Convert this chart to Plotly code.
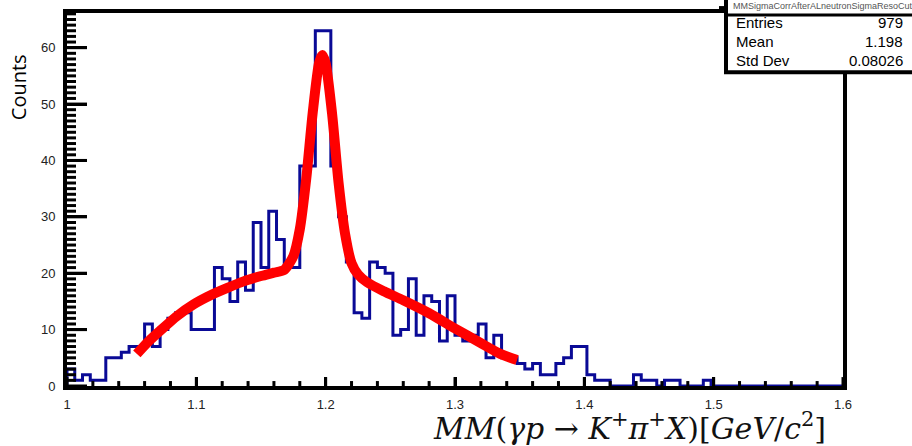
import numpy as np
import plotly.graph_objects as go

# ---------------- data ----------------
bin_lo, bin_hi, n_bins = 1.0, 1.6, 100
counts = [3, 1, 2, 1, 1, 5, 5, 6, 7, 7,
          11, 7, 10, 12, 13, 13, 10, 10, 10, 21,
          19, 15, 22, 17, 29, 21, 31, 26, 21, 21,
          39, 39, 63, 63, 39, 30, 22, 13, 12, 22,
          21, 20, 9, 10, 19, 9, 16, 15, 8, 16,
          9, 8, 9, 11, 5, 9, 5, 5, 4, 3,
          4, 2, 2, 4, 5, 7, 7, 2, 1, 1,
          0, 0, 0, 2, 1, 1, 0, 1, 1, 0,
          0, 0, 1, 0, 0, 0, 0, 0, 0, 0,
          0, 0, 0, 0, 0, 0, 0, 0, 0, 0]

fit_x = [1.054, 1.063, 1.072, 1.085, 1.098, 1.111, 1.124, 1.137, 1.15, 1.16,
         1.168, 1.175, 1.18, 1.185, 1.19, 1.195, 1.1975, 1.2, 1.205, 1.21,
         1.215, 1.22, 1.225, 1.232, 1.245, 1.26, 1.28, 1.3, 1.32, 1.335, 1.348]
fit_y = [5.7, 7.9, 9.8, 12.4, 14.5, 16.1, 17.4, 18.6, 19.5, 20.1,
         20.6, 23.0, 27.8, 36.8, 48.5, 57.4, 58.7, 57.2, 48.2, 36.0,
         27.0, 21.8, 19.8, 18.4, 16.8, 15.2, 12.9, 10.2, 7.6, 5.7, 4.6]

x_tick0, x_dtick, x_minor = 1.0, 0.1, 0.02
y_tick0, y_dtick, y_minor = 0, 10, 1

stats_title = "MMSigmaCorrAfterALneutronSigmaResoCut"
stats_names = ["Entries", "Mean", "Std Dev"]
stats_values = ["979", "1.198", "0.08026"]

y_max = 66.15

# ---------------- layout geometry (pixels) ----------------
W, H = 912, 446
ML, MR, MT, MB = 67, 69, 9, 60
PW, PH = W - ML - MR, H - MT - MB


def px(xp):
    return (xp - ML) / PW


def py(yp):
    return (H - MB - yp) / PH


def xfrac(xv):
    return (xv - bin_lo) / (bin_hi - bin_lo)


def yfrac(yv):
    return yv / y_max


edges = np.linspace(bin_lo, bin_hi, n_bins + 1)
hx = [edges[0]] + list(edges)
hy = [0] + list(counts) + [counts[-1]]

fig = go.Figure()
fig.add_trace(go.Scatter(x=hx, y=hy, mode="lines", line_shape="hv",
                         line=dict(color="#0a0a96", width=3),
                         hoverinfo="skip", showlegend=False))
fig.add_trace(go.Scatter(x=fit_x, y=fit_y, mode="lines",
                         line=dict(color="#ff0000", width=10, shape="spline", smoothing=0.7),
                         hoverinfo="skip", showlegend=False))

tickfont = dict(family="Liberation Sans, Arial, sans-serif", size=13, color="#222222")

fig.update_layout(
    width=W, height=H,
    margin=dict(l=ML, r=MR, t=MT, b=MB, pad=0),
    paper_bgcolor="white", plot_bgcolor="white",
    xaxis=dict(range=[bin_lo, bin_hi], tickmode="linear", tick0=x_tick0, dtick=x_dtick,
               showgrid=False, zeroline=False, showline=True, linecolor="black",
               linewidth=4, mirror=True, ticks="inside", ticklen=9, tickwidth=3,
               tickcolor="black", ticklabelstandoff=3, tickfont=tickfont),
    yaxis=dict(range=[0, y_max], tickmode="linear", tick0=y_tick0, dtick=y_dtick,
               showgrid=False, zeroline=False, showline=True, linecolor="black",
               linewidth=4, mirror=True, ticks="inside", ticklen=20, tickwidth=3,
               tickcolor="black", ticklabelstandoff=5, tickfont=tickfont),
)

# inside tick marks (ROOT style), positioned through the axis scales
shapes = []
for xv in np.arange(bin_lo, bin_hi + 1e-9, x_minor):
    k = (xv - x_tick0) / x_dtick
    major = abs(k - round(k)) < 1e-6
    tl = 9 if major else 5
    shapes.append(dict(type="line", xref="paper", yref="paper",
                       x0=xfrac(xv), x1=xfrac(xv), y0=0, y1=tl / PH,
                       line=dict(color="black", width=3), layer="above"))
for yv in np.arange(y_tick0, y_max, y_minor):
    major = (yv - y_tick0) % y_dtick == 0
    tl = 20 if major else 9
    shapes.append(dict(type="line", xref="paper", yref="paper",
                       x0=0, x1=tl / PW, y0=yfrac(yv), y1=yfrac(yv),
                       line=dict(color="black", width=3), layer="above"))

# axis titles
fig.add_annotation(text="Counts", xref="paper", yref="paper",
                   x=px(18), y=py(84), textangle=-90, showarrow=False,
                   font=dict(family="Open Sans, Noto Sans, sans-serif", size=20, color="black"),
                   xanchor="center", yanchor="middle")
fig.add_annotation(
    text="<i>MM</i>(<i>γp</i> → <i>K</i><sup>+</sup><i>π</i><sup>+</sup><i>X</i>)[<i>GeV</i>/<i>c</i><sup>2</sup>]",
    xref="paper", yref="paper", x=px(828), y=py(427), showarrow=False,
    font=dict(family="DejaVu Serif, Liberation Serif, serif", size=30, color="#111111"),
    xanchor="right", yanchor="middle")

# stats box
shapes += [
    dict(type="rect", xref="paper", yref="paper", x0=px(726), x1=px(930), y0=py(69), y1=py(-10),
         fillcolor="white", line=dict(color="black", width=4), layer="above"),
    dict(type="line", xref="paper", yref="paper", x0=px(726), x1=px(930), y0=py(11), y1=py(11),
         line=dict(color="black", width=3), layer="above"),
    dict(type="rect", xref="paper", yref="paper", x0=px(719), x1=px(725), y0=py(8), y1=py(2),
         fillcolor="black", line=dict(color="black", width=0), layer="above"),
]
fig.update_layout(shapes=shapes)

fig.add_annotation(text=stats_title, xref="paper", yref="paper", x=px(731), y=py(2),
                   showarrow=False, xanchor="left", yanchor="middle",
                   font=dict(family="Liberation Sans, Arial, sans-serif", size=9, color="#555555"))
stat_y = [19, 38, 57]
for name, val, yy in zip(stats_names, stats_values, stat_y):
    fig.add_annotation(text=name, xref="paper", yref="paper", x=px(734), y=py(yy),
                       showarrow=False, xanchor="left", yanchor="middle",
                       font=dict(family="Liberation Sans, Arial, sans-serif", size=15, color="black"))
    fig.add_annotation(text=val, xref="paper", yref="paper", x=px(905), y=py(yy),
                       showarrow=False, xanchor="right", yanchor="middle",
                       font=dict(family="Liberation Sans, Arial, sans-serif", size=15, color="black"))

fig.write_html("out.html")
